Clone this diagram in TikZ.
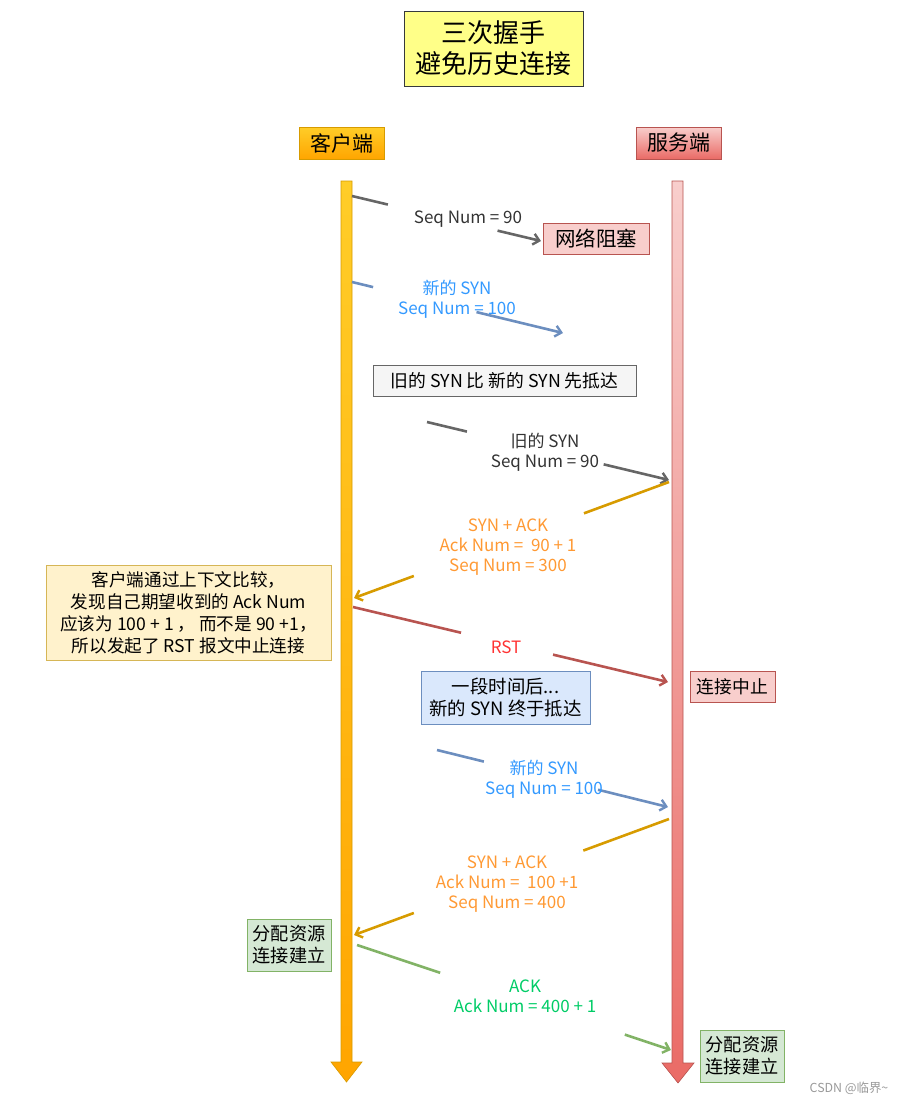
\documentclass[tikz,border=0pt]{standalone}
\usepackage{fontspec}
\setmainfont{Noto Sans CJK SC}
\usetikzlibrary{arrows.meta,calc}
\definecolor{lgray}{HTML}{666666}
\definecolor{lblue}{HTML}{6C8EBF}
\definecolor{lgold}{HTML}{D79B00}
\definecolor{lred}{HTML}{B85450}
\definecolor{lgreen}{HTML}{82B366}
\definecolor{tdark}{HTML}{333333}
\definecolor{tblue}{HTML}{3399FF}
\definecolor{torange}{HTML}{FF9933}
\definecolor{tred}{HTML}{FF3333}
\definecolor{tgreen}{HTML}{00CC66}
\definecolor{cyellow}{HTML}{FFCD28}
\definecolor{corange}{HTML}{FFA500}
\definecolor{spink}{HTML}{F8CECC}
\definecolor{sred}{HTML}{EA6B66}
\definecolor{tborder}{HTML}{36393D}
\definecolor{tfill}{HTML}{FFFF88}
\definecolor{gfill}{HTML}{F5F5F5}
\definecolor{nborder}{HTML}{D6B656}
\definecolor{nfill}{HTML}{FFF2CC}
\definecolor{bfill}{HTML}{DAE8FC}
\definecolor{grfill}{HTML}{D5E8D4}
\definecolor{wmgray}{HTML}{999999}
\newcommand\gapmsg[5]{%
  \draw[seg,#1] (#2) -- ($(#2)!#4!(#3)$);
  \draw[seg,#1,tipped] ($(#2)!#5!(#3)$) -- (#3);}
\begin{document}
\begin{tikzpicture}[x=1pt,y=-1pt,
  seg/.style={line width=2.6pt},
  tipped/.style={-{Straight Barb[length=6pt,width=11pt,line width=2.4pt]}},
  boxed/.style={draw,line width=1pt,inner sep=0pt,align=center,text=black},
  lbl/.style={align=center,font=\fontsize{17}{20}\selectfont,inner sep=0pt}]
\useasboundingbox (0,0) rectangle (906,1104);
% title
\node[boxed,draw=tborder,fill=tfill,minimum width=179pt,minimum height=75pt,
  font=\fontsize{26}{31}\selectfont] (title) at (493.5,48.5) {三次握手\\避免历史连接};
% headers
\node[boxed,draw=lgold,top color=cyellow,bottom color=corange,minimum width=85pt,minimum height=32pt,
  font=\fontsize{21}{24}\selectfont] (client) at (341.5,143) {客户端};
\node[boxed,draw=lred,top color=spink,bottom color=sred,minimum width=85pt,minimum height=32pt,
  font=\fontsize{21}{24}\selectfont] (server) at (678.5,143) {服务端};
% lifelines
\shade[top color=cyellow,bottom color=corange,draw=lgold,line width=0.6pt]
  (341,181) -- (352,181) -- (352,1062) -- (362,1062) -- (346.5,1082) -- (331,1062) -- (341,1062) -- cycle;
\shade[top color=spink,bottom color=sred,draw=lred,line width=0.6pt]
  (672,181) -- (683,181) -- (683,1063) -- (694,1063) -- (678,1083) -- (662,1063) -- (672,1063) -- cycle;
% boxes
\node[boxed,draw=lred,fill=spink,minimum width=106pt,minimum height=31pt,font=\fontsize{20.5}{24}\selectfont]
  (block) at (596,238.5) {网络阻塞};
\node[boxed,draw=lgray,fill=gfill,minimum width=263pt,minimum height=31pt,font=\fontsize{17.8}{21}\selectfont]
  (old) at (504.5,380.5) {旧的 SYN 比 新的 SYN 先抵达};
\node[boxed,draw=nborder,fill=nfill,minimum width=285pt,minimum height=95pt,font=\fontsize{17.6}{22}\selectfont]
  (note) at (188.5,612.5) {客户端通过上下文比较，\\发现自己期望收到的 Ack Num\\应该为 100 + 1 ，  而不是 90 +1，\\所以发起了 RST 报文中止连接};
\node[boxed,draw=lred,fill=spink,minimum width=85pt,minimum height=31pt,font=\fontsize{17.8}{21}\selectfont]
  (abort) at (732.5,686.5) {连接中止};
\node[boxed,draw=lblue,fill=bfill,minimum width=169pt,minimum height=53pt,font=\fontsize{18.4}{22}\selectfont]
  (later) at (505.5,697.5) {一段时间后...\\新的 SYN 终于抵达};
\node[boxed,draw=lgreen,fill=grfill,minimum width=84pt,minimum height=52pt,font=\fontsize{18.2}{22}\selectfont]
  (estc) at (289,945) {分配资源\\连接建立};
\node[boxed,draw=lgreen,fill=grfill,minimum width=84pt,minimum height=52pt,font=\fontsize{18.2}{22}\selectfont]
  (ests) at (742,1056) {分配资源\\连接建立};
% message endpoints
\coordinate (a1) at (352,196);  \coordinate (b1) at (541,241);
\coordinate (a2) at (352,282);  \coordinate (b2) at (563,333);
\coordinate (a3) at (427,422);  \coordinate (b3) at (669,480);
\coordinate (a4) at (669,482);  \coordinate (b4) at (354,598);
\coordinate (a5) at (353,607);  \coordinate (b5) at (668,682);
\coordinate (a6) at (437,750);  \coordinate (b6) at (668,807);
\coordinate (a7) at (669,819);  \coordinate (b7) at (354,935);
\coordinate (a8) at (357,945);  \coordinate (b8) at (671,1050);
% messages
\gapmsg{lgray}{a1}{b1}{0.19}{0.77}
\gapmsg{lblue}{a2}{b2}{0.10}{0.59}
\gapmsg{lgray}{a3}{b3}{0.165}{0.73}
\gapmsg{lgold}{a4}{b4}{0.27}{0.81}
\gapmsg{lred}{a5}{b5}{0.343}{0.635}
\gapmsg{lblue}{a6}{b6}{0.203}{0.697}
\gapmsg{lgold}{a7}{b7}{0.272}{0.81}
\gapmsg{lgreen}{a8}{b8}{0.265}{0.853}
% labels
\node[lbl,text=tdark] (l1) at (468,219) {Seq Num = 90};
\node[lbl,text=tblue] (l2) at (457,299) {新的 SYN\\Seq Num = 100};
\node[lbl,text=tdark] (l3) at (545,452) {旧的 SYN\\Seq Num = 90};
\node[lbl,text=torange] (l4) at (508,547) {SYN + ACK\\Ack Num =\ \ 90 + 1\\Seq Num = 300};
\node[lbl,text=tred] (l5) at (506,647) {RST};
\node[lbl,text=tblue] (l6) at (544,779) {新的 SYN\\Seq Num = 100};
\node[lbl,text=torange] (l7) at (507,884) {SYN + ACK\\Ack Num =\ \ 100 +1\\Seq Num = 400};
\node[lbl,text=tgreen] (l8) at (525,996) {ACK\\Ack Num = 400 + 1};
% watermark
\node[text=wmgray,font=\fontsize{12.4}{14}\selectfont,inner sep=0pt] (wm) at (849,1088) {CSDN @临界\textasciitilde};
\end{tikzpicture}
\end{document}
